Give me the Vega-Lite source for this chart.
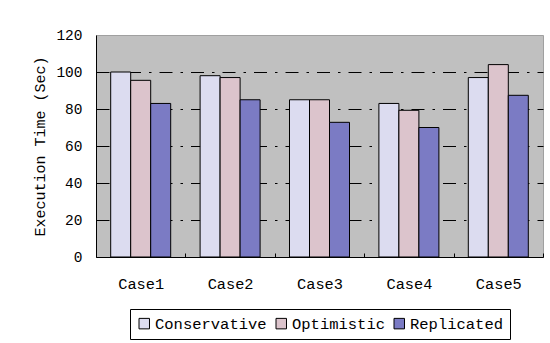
{
  "$schema": "https://vega.github.io/schema/vega-lite/v6.json",
  "width": 447,
  "height": 222,
  "autosize": "none",
  "padding": {"left": 96, "top": 35, "right": 7, "bottom": 86},
  "background": "white",
  "data": {
    "values": [
      {"case": "Case1", "method": "Conservative", "time": 100},
      {"case": "Case1", "method": "Optimistic", "time": 95.5},
      {"case": "Case1", "method": "Replicated", "time": 83},
      {"case": "Case2", "method": "Conservative", "time": 98},
      {"case": "Case2", "method": "Optimistic", "time": 97},
      {"case": "Case2", "method": "Replicated", "time": 85},
      {"case": "Case3", "method": "Conservative", "time": 85},
      {"case": "Case3", "method": "Optimistic", "time": 85},
      {"case": "Case3", "method": "Replicated", "time": 72.8},
      {"case": "Case4", "method": "Conservative", "time": 83},
      {"case": "Case4", "method": "Optimistic", "time": 79.3},
      {"case": "Case4", "method": "Replicated", "time": 70},
      {"case": "Case5", "method": "Conservative", "time": 97},
      {"case": "Case5", "method": "Optimistic", "time": 104},
      {"case": "Case5", "method": "Replicated", "time": 87.4}
    ]
  },
  "mark": {"type": "bar", "stroke": "black", "strokeWidth": 1},
  "encoding": {
    "x": {
      "field": "case",
      "type": "nominal",
      "scale": {"paddingInner": 0, "paddingOuter": 0},
      "axis": {
        "title": null,
        "labelAngle": 0,
        "labelFont": "Liberation Mono",
        "labelFontSize": 15.3,
        "labelColor": "black",
        "labelPadding": 23,
        "domainColor": "black",
        "tickBand": "extent",
        "tickColor": "black",
        "tickSize": -4,
        "grid": false
      }
    },
    "xOffset": {
      "field": "method",
      "sort": ["Conservative", "Optimistic", "Replicated"],
      "scale": {"paddingInner": 0, "paddingOuter": 0.735}
    },
    "y": {
      "field": "time",
      "type": "quantitative",
      "scale": {"domain": [0, 120]},
      "axis": {
        "values": [0, 20, 40, 60, 80, 100, 120],
        "title": "Execution Time (Sec)",
        "titleFont": "Liberation Mono",
        "titleFontSize": 15,
        "titleFontWeight": "normal",
        "titleColor": "black",
        "titlePadding": 8,
        "labelFont": "Liberation Mono",
        "labelFontSize": 14.5,
        "labelColor": "black",
        "labelPadding": 14,
        "ticks": false,
        "domainColor": "black",
        "grid": true,
        "gridColor": "black",
        "gridDash": [13, 8, 2.5, 8],
        "gridWidth": 1,
        "gridOpacity": {"condition": {"test": "datum.value == 0 || datum.value == 120", "value": 0}, "value": 1}
      }
    },
    "color": {
      "field": "method",
      "type": "nominal",
      "sort": ["Conservative", "Optimistic", "Replicated"],
      "scale": {
        "domain": ["Conservative", "Optimistic", "Replicated"],
        "range": ["#dcdcf0", "#dcc4cc", "#7b7bc4"]
      },
      "legend": {
        "orient": "none",
        "legendX": 34,
        "legendY": 274,
        "direction": "horizontal",
        "title": null,
        "strokeColor": "black",
        "fillColor": "white",
        "padding": 6.5,
        "symbolType": "square",
        "symbolSize": 110,
        "symbolStrokeColor": "black",
        "symbolStrokeWidth": 1,
        "symbolOpacity": 1,
        "labelFont": "Liberation Mono",
        "labelFontSize": 15.5,
        "labelColor": "black",
        "labelOffset": 3,
        "columnPadding": 6
      }
    }
  },
  "config": {
    "view": {"fill": "#c0c0c0", "stroke": "#a0a0a0"},
    "font": "Liberation Mono"
  }
}
